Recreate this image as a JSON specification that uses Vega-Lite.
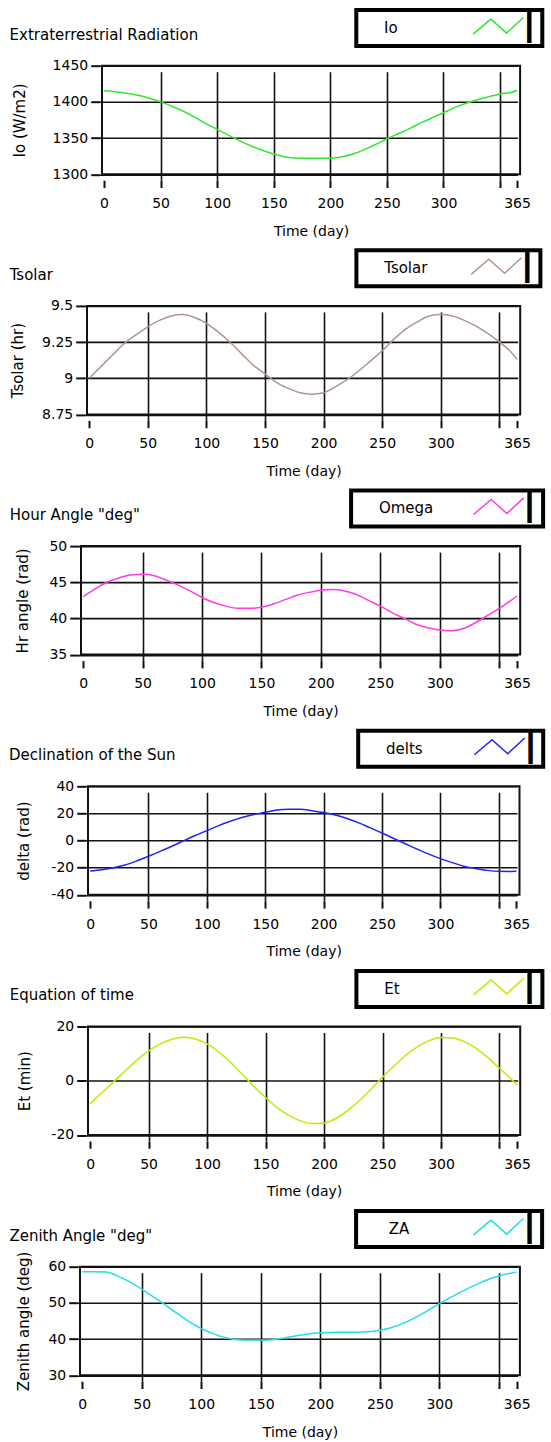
{
"$schema": "https://vega.github.io/schema/vega-lite/v6.json",
"background": "white",
"padding": {"left": 5, "top": 6.7, "right": 0, "bottom": 0},
"datasets": {"d": [
{"s":"Io","day":0,"v":1415.5},{"s":"Io","day":10,"v":1414},{"s":"Io","day":20,"v":1412},{"s":"Io","day":30,"v":1409},{"s":"Io","day":40,"v":1405},{"s":"Io","day":50,"v":1400},{"s":"Io","day":60,"v":1394},{"s":"Io","day":70,"v":1387},{"s":"Io","day":80,"v":1379},{"s":"Io","day":90,"v":1370},{"s":"Io","day":100,"v":1362},{"s":"Io","day":110,"v":1354},{"s":"Io","day":120,"v":1346},{"s":"Io","day":130,"v":1339},{"s":"Io","day":140,"v":1333},{"s":"Io","day":150,"v":1328},{"s":"Io","day":160,"v":1324},{"s":"Io","day":170,"v":1322},{"s":"Io","day":180,"v":1322},{"s":"Io","day":190,"v":1322},{"s":"Io","day":200,"v":1322},{"s":"Io","day":210,"v":1324},{"s":"Io","day":220,"v":1328},{"s":"Io","day":230,"v":1334},{"s":"Io","day":240,"v":1341},{"s":"Io","day":250,"v":1349},{"s":"Io","day":260,"v":1356},{"s":"Io","day":270,"v":1363},{"s":"Io","day":280,"v":1371},{"s":"Io","day":290,"v":1378},{"s":"Io","day":300,"v":1385},{"s":"Io","day":310,"v":1392},{"s":"Io","day":320,"v":1398},{"s":"Io","day":330,"v":1403},{"s":"Io","day":340,"v":1407},{"s":"Io","day":350,"v":1411},{"s":"Io","day":360,"v":1413},{"s":"Io","day":365,"v":1416},
{"s":"Tsolar","day":0,"v":9.00},{"s":"Tsolar","day":10,"v":9.08},{"s":"Tsolar","day":20,"v":9.16},{"s":"Tsolar","day":30,"v":9.24},{"s":"Tsolar","day":40,"v":9.30},{"s":"Tsolar","day":50,"v":9.355},{"s":"Tsolar","day":60,"v":9.40},{"s":"Tsolar","day":70,"v":9.43},{"s":"Tsolar","day":80,"v":9.44},{"s":"Tsolar","day":90,"v":9.42},{"s":"Tsolar","day":100,"v":9.38},{"s":"Tsolar","day":110,"v":9.32},{"s":"Tsolar","day":120,"v":9.25},{"s":"Tsolar","day":130,"v":9.17},{"s":"Tsolar","day":140,"v":9.09},{"s":"Tsolar","day":150,"v":9.03},{"s":"Tsolar","day":160,"v":8.97},{"s":"Tsolar","day":170,"v":8.93},{"s":"Tsolar","day":180,"v":8.90},{"s":"Tsolar","day":190,"v":8.89},{"s":"Tsolar","day":200,"v":8.90},{"s":"Tsolar","day":210,"v":8.94},{"s":"Tsolar","day":220,"v":8.99},{"s":"Tsolar","day":230,"v":9.05},{"s":"Tsolar","day":240,"v":9.12},{"s":"Tsolar","day":250,"v":9.19},{"s":"Tsolar","day":260,"v":9.27},{"s":"Tsolar","day":270,"v":9.34},{"s":"Tsolar","day":280,"v":9.39},{"s":"Tsolar","day":290,"v":9.43},{"s":"Tsolar","day":300,"v":9.44},{"s":"Tsolar","day":310,"v":9.43},{"s":"Tsolar","day":320,"v":9.40},{"s":"Tsolar","day":330,"v":9.36},{"s":"Tsolar","day":340,"v":9.31},{"s":"Tsolar","day":350,"v":9.25},{"s":"Tsolar","day":360,"v":9.18},{"s":"Tsolar","day":365,"v":9.13},
{"s":"Omega","day":0,"v":43.0},{"s":"Omega","day":10,"v":44.1},{"s":"Omega","day":20,"v":45.0},{"s":"Omega","day":30,"v":45.6},{"s":"Omega","day":40,"v":46.0},{"s":"Omega","day":50,"v":46.1},{"s":"Omega","day":60,"v":45.9},{"s":"Omega","day":70,"v":45.3},{"s":"Omega","day":80,"v":44.6},{"s":"Omega","day":90,"v":43.8},{"s":"Omega","day":100,"v":42.9},{"s":"Omega","day":110,"v":42.2},{"s":"Omega","day":120,"v":41.7},{"s":"Omega","day":130,"v":41.4},{"s":"Omega","day":140,"v":41.4},{"s":"Omega","day":150,"v":41.55},{"s":"Omega","day":160,"v":42.0},{"s":"Omega","day":170,"v":42.6},{"s":"Omega","day":180,"v":43.2},{"s":"Omega","day":190,"v":43.6},{"s":"Omega","day":200,"v":43.9},{"s":"Omega","day":210,"v":44.0},{"s":"Omega","day":220,"v":43.8},{"s":"Omega","day":230,"v":43.3},{"s":"Omega","day":240,"v":42.5},{"s":"Omega","day":250,"v":41.7},{"s":"Omega","day":260,"v":40.8},{"s":"Omega","day":270,"v":40.0},{"s":"Omega","day":280,"v":39.2},{"s":"Omega","day":290,"v":38.7},{"s":"Omega","day":300,"v":38.4},{"s":"Omega","day":310,"v":38.3},{"s":"Omega","day":320,"v":38.6},{"s":"Omega","day":330,"v":39.4},{"s":"Omega","day":340,"v":40.4},{"s":"Omega","day":350,"v":41.4},{"s":"Omega","day":360,"v":42.5},{"s":"Omega","day":365,"v":43.1},
{"s":"delts","day":0,"v":-22.5},{"s":"delts","day":10,"v":-21.6},{"s":"delts","day":20,"v":-20.0},{"s":"delts","day":30,"v":-18.0},{"s":"delts","day":40,"v":-15.0},{"s":"delts","day":50,"v":-11.6},{"s":"delts","day":60,"v":-8.0},{"s":"delts","day":70,"v":-4.2},{"s":"delts","day":80,"v":-0.2},{"s":"delts","day":90,"v":3.7},{"s":"delts","day":100,"v":7.3},{"s":"delts","day":110,"v":11.0},{"s":"delts","day":120,"v":14.2},{"s":"delts","day":130,"v":17.0},{"s":"delts","day":140,"v":19.2},{"s":"delts","day":150,"v":20.8},{"s":"delts","day":160,"v":22.5},{"s":"delts","day":170,"v":23.0},{"s":"delts","day":180,"v":23.0},{"s":"delts","day":190,"v":22.0},{"s":"delts","day":200,"v":20.6},{"s":"delts","day":210,"v":18.8},{"s":"delts","day":220,"v":16.2},{"s":"delts","day":230,"v":13.0},{"s":"delts","day":240,"v":9.3},{"s":"delts","day":250,"v":5.6},{"s":"delts","day":260,"v":1.5},{"s":"delts","day":270,"v":-2.4},{"s":"delts","day":280,"v":-6.3},{"s":"delts","day":290,"v":-10.0},{"s":"delts","day":300,"v":-13.3},{"s":"delts","day":310,"v":-16.3},{"s":"delts","day":320,"v":-18.9},{"s":"delts","day":330,"v":-20.6},{"s":"delts","day":340,"v":-22.0},{"s":"delts","day":350,"v":-22.7},{"s":"delts","day":360,"v":-22.8},{"s":"delts","day":365,"v":-22.7},
{"s":"Et","day":0,"v":-8.5},{"s":"Et","day":10,"v":-4.4},{"s":"Et","day":20,"v":-0.4},{"s":"Et","day":30,"v":3.6},{"s":"Et","day":40,"v":7.6},{"s":"Et","day":50,"v":11.0},{"s":"Et","day":60,"v":13.6},{"s":"Et","day":70,"v":15.3},{"s":"Et","day":80,"v":16.0},{"s":"Et","day":90,"v":15.4},{"s":"Et","day":100,"v":13.6},{"s":"Et","day":110,"v":10.6},{"s":"Et","day":120,"v":6.8},{"s":"Et","day":130,"v":2.4},{"s":"Et","day":140,"v":-2.1},{"s":"Et","day":150,"v":-6.2},{"s":"Et","day":160,"v":-9.9},{"s":"Et","day":170,"v":-12.8},{"s":"Et","day":180,"v":-14.8},{"s":"Et","day":190,"v":-15.8},{"s":"Et","day":200,"v":-15.6},{"s":"Et","day":210,"v":-13.9},{"s":"Et","day":220,"v":-11.0},{"s":"Et","day":230,"v":-7.4},{"s":"Et","day":240,"v":-3.2},{"s":"Et","day":250,"v":1.3},{"s":"Et","day":260,"v":5.5},{"s":"Et","day":270,"v":9.4},{"s":"Et","day":280,"v":12.6},{"s":"Et","day":290,"v":14.8},{"s":"Et","day":300,"v":15.9},{"s":"Et","day":310,"v":15.8},{"s":"Et","day":320,"v":14.4},{"s":"Et","day":330,"v":11.9},{"s":"Et","day":340,"v":8.5},{"s":"Et","day":350,"v":4.6},{"s":"Et","day":360,"v":0.6},{"s":"Et","day":365,"v":-1.6},
{"s":"ZA","day":0,"v":58.6},{"s":"ZA","day":10,"v":58.6},{"s":"ZA","day":20,"v":58.5},{"s":"ZA","day":30,"v":57.4},{"s":"ZA","day":40,"v":55.8},{"s":"ZA","day":50,"v":53.8},{"s":"ZA","day":60,"v":51.6},{"s":"ZA","day":70,"v":49.4},{"s":"ZA","day":80,"v":47.0},{"s":"ZA","day":90,"v":44.8},{"s":"ZA","day":100,"v":42.9},{"s":"ZA","day":110,"v":41.5},{"s":"ZA","day":120,"v":40.4},{"s":"ZA","day":130,"v":39.8},{"s":"ZA","day":140,"v":39.7},{"s":"ZA","day":150,"v":39.7},{"s":"ZA","day":160,"v":39.8},{"s":"ZA","day":170,"v":40.3},{"s":"ZA","day":180,"v":40.9},{"s":"ZA","day":190,"v":41.4},{"s":"ZA","day":200,"v":41.7},{"s":"ZA","day":210,"v":41.8},{"s":"ZA","day":220,"v":41.9},{"s":"ZA","day":230,"v":41.9},{"s":"ZA","day":240,"v":42.0},{"s":"ZA","day":250,"v":42.4},{"s":"ZA","day":260,"v":43.2},{"s":"ZA","day":270,"v":44.4},{"s":"ZA","day":280,"v":46.0},{"s":"ZA","day":290,"v":47.8},{"s":"ZA","day":300,"v":49.8},{"s":"ZA","day":310,"v":51.6},{"s":"ZA","day":320,"v":53.3},{"s":"ZA","day":330,"v":54.9},{"s":"ZA","day":340,"v":56.3},{"s":"ZA","day":350,"v":57.4},{"s":"ZA","day":360,"v":58.2},{"s":"ZA","day":365,"v":58.5}
]},
"data": {"name": "d"},
"spacing": 7.2,
"resolve": {"scale": {"color": "independent", "x": "independent", "y": "independent"}, "legend": {"color": "independent"}},
"vconcat": [
{"spacing": 0, "resolve": {"scale": {"color": "independent"}, "legend": {"color": "independent"}}, "hconcat": [
 {"width": 1, "height": 1, "view": {"stroke": "transparent"}, "data": {"values": []}, "mark": "point", "encoding": {}},
 {
 "width": 418.1, "height": 108.5,
 "title": {"text": "Extraterrestrial Radiation", "dx": -92.4},
 "transform": [{"filter": "datum.s === 'Io'"}],
 "mark": {"type": "line"},
 "encoding": {
  "x": {"field": "day", "type": "quantitative", "scale": {"domain": [-1.8, 367.7], "nice": false, "zero": false},
        "axis": {"title": "Time (day)", "values": [0,50,100,150,200,250,300,350,365], "labelExpr": "datum.value === 350 ? '' : toString(datum.value)", "gridColor": {"condition": {"test": "datum.value === 365 || datum.value === 0", "value": "transparent"}, "value": "#111"}}},
  "y": {"field": "v", "type": "quantitative", "scale": {"domain": [1300, 1450], "nice": false, "zero": false},
        "axis": {"title": "Io (W/m2)", "values": [1300,1350,1400,1450], "titleX": -80.1}},
  "color": {"field": "s", "type": "nominal", "scale": {"domain": ["Io"], "range": ["#33E633"]},
        "legend": {"title": "\u200b\u00a0\u00a0\u00a0\u00a0\u00a0Io", "labelExpr": "'\u2503\u00a0\u00a0\u2009\u2009'", "legendX": 254.3, "legendY": -55.6, "titlePadding": 70.65, "encode": {"legend": {"strokeWidth": {"value": 4}}}}}
 }
 }
]},
{"spacing": 0, "resolve": {"scale": {"color": "independent"}, "legend": {"color": "independent"}}, "hconcat": [
 {"width": 1, "height": 1, "view": {"stroke": "transparent"}, "data": {"values": []}, "mark": "point", "encoding": {}},
 {
 "width": 433.2, "height": 108.5,
 "title": {"text": "Tsolar", "dx": -77.3},
 "transform": [{"filter": "datum.s === 'Tsolar'"}],
 "mark": {"type": "line"},
 "encoding": {
  "x": {"field": "day", "type": "quantitative", "scale": {"domain": [-1.8, 367.7], "nice": false, "zero": false},
        "axis": {"title": "Time (day)", "values": [0,50,100,150,200,250,300,350,365], "labelExpr": "datum.value === 350 ? '' : toString(datum.value)", "gridColor": {"condition": {"test": "datum.value === 365 || datum.value === 0", "value": "transparent"}, "value": "#111"}}},
  "y": {"field": "v", "type": "quantitative", "scale": {"domain": [8.75, 9.5], "nice": false, "zero": false},
        "axis": {"title": "Tsolar (hr)", "values": [8.75, 9, 9.25, 9.5], "titleX": -67.3}},
  "color": {"field": "s", "type": "nominal", "scale": {"domain": ["Tsolar"], "range": ["#AF968C"]},
        "legend": {"title": "\u200b\u00a0\u00a0\u00a0\u00a0\u00a0Tsolar", "labelExpr": "'\u2503\u00a0\u00a0\u2009\u2009'", "legendX": 269.4, "legendY": -55.6, "titlePadding": 38.55, "encode": {"legend": {"strokeWidth": {"value": 4}}}}}
 }
 }
]},
{"spacing": 0, "resolve": {"scale": {"color": "independent"}, "legend": {"color": "independent"}}, "hconcat": [
 {"width": 1, "height": 1, "view": {"stroke": "transparent"}, "data": {"values": []}, "mark": "point", "encoding": {}},
 {
 "width": 439.2, "height": 108.5,
 "title": {"text": "Hour Angle \"deg\"", "dx": -71.3},
 "transform": [{"filter": "datum.s === 'Omega'"}],
 "mark": {"type": "line"},
 "encoding": {
  "x": {"field": "day", "type": "quantitative", "scale": {"domain": [-1.8, 367.7], "nice": false, "zero": false},
        "axis": {"title": "Time (day)", "values": [0,50,100,150,200,250,300,350,365], "labelExpr": "datum.value === 350 ? '' : toString(datum.value)", "gridColor": {"condition": {"test": "datum.value === 365 || datum.value === 0", "value": "transparent"}, "value": "#111"}}},
  "y": {"field": "v", "type": "quantitative", "scale": {"domain": [35, 50], "nice": false, "zero": false},
        "axis": {"title": "Hr angle (rad)", "values": [35, 40, 45, 50], "titleX": -56.5}},
  "color": {"field": "s", "type": "nominal", "scale": {"domain": ["Omega"], "range": ["#FF3CE4"]},
        "legend": {"title": "\u200b\u00a0\u00a0\u00a0\u00a0\u00a0Omega", "labelExpr": "'\u2503\u00a0\u00a0\u2009\u2009'", "legendX": 270.1, "legendY": -55.6, "titlePadding": 35.15, "encode": {"legend": {"strokeWidth": {"value": 4}}}}}
 }
 }
]},
{"spacing": 0, "resolve": {"scale": {"color": "independent"}, "legend": {"color": "independent"}}, "hconcat": [
 {"width": 1, "height": 1, "view": {"stroke": "transparent"}, "data": {"values": []}, "mark": "point", "encoding": {}},
 {
 "width": 431.5, "height": 108.5,
 "title": {"text": "Declination of the Sun", "dx": -79},
 "transform": [{"filter": "datum.s === 'delts'"}],
 "mark": {"type": "line"},
 "encoding": {
  "x": {"field": "day", "type": "quantitative", "scale": {"domain": [-1.8, 367.7], "nice": false, "zero": false},
        "axis": {"title": "Time (day)", "values": [0,50,100,150,200,250,300,350,365], "labelExpr": "datum.value === 350 ? '' : toString(datum.value)", "gridColor": {"condition": {"test": "datum.value === 365 || datum.value === 0", "value": "transparent"}, "value": "#111"}}},
  "y": {"field": "v", "type": "quantitative", "scale": {"domain": [-40, 40], "nice": false, "zero": false},
        "axis": {"title": "delta (rad)", "values": [-40, -20, 0, 20, 40], "titleX": -62.1}},
  "color": {"field": "s", "type": "nominal", "scale": {"domain": ["delts"], "range": ["#2020FF"]},
        "legend": {"title": "\u200b\u00a0\u00a0\u00a0\u00a0\u00a0delts", "labelExpr": "'\u2503\u00a0\u00a0\u2009\u2009'", "legendX": 270.2, "legendY": -55.6, "titlePadding": 46.95, "encode": {"legend": {"strokeWidth": {"value": 4}}}}}
 }
 }
]},
{"spacing": 0, "resolve": {"scale": {"color": "independent"}, "legend": {"color": "independent"}}, "hconcat": [
 {"width": 1, "height": 1, "view": {"stroke": "transparent"}, "data": {"values": []}, "mark": "point", "encoding": {}},
 {
 "width": 432.2, "height": 108.5,
 "title": {"text": "Equation of time", "dx": -78.3},
 "transform": [{"filter": "datum.s === 'Et'"}],
 "mark": {"type": "line"},
 "encoding": {
  "x": {"field": "day", "type": "quantitative", "scale": {"domain": [-1.8, 367.7], "nice": false, "zero": false},
        "axis": {"title": "Time (day)", "values": [0,50,100,150,200,250,300,350,365], "labelExpr": "datum.value === 350 ? '' : toString(datum.value)", "gridColor": {"condition": {"test": "datum.value === 365 || datum.value === 0", "value": "transparent"}, "value": "#111"}}},
  "y": {"field": "v", "type": "quantitative", "scale": {"domain": [-20, 20], "nice": false, "zero": false},
        "axis": {"title": "Et (min)", "values": [-20, 0, 20], "titleX": -61.4}},
  "color": {"field": "s", "type": "nominal", "scale": {"domain": ["Et"], "range": ["#B4F000"]},
        "legend": {"title": "\u200b\u00a0\u00a0\u00a0\u00a0\u00a0Et", "labelExpr": "'\u2503\u00a0\u00a0\u2009\u2009'", "legendX": 268.4, "legendY": -55.6, "titlePadding": 68.85, "encode": {"legend": {"strokeWidth": {"value": 4}}}}}
 }
 }
]},
{"spacing": 0, "resolve": {"scale": {"color": "independent"}, "legend": {"color": "independent"}}, "hconcat": [
 {"width": 1, "height": 1, "view": {"stroke": "transparent"}, "data": {"values": []}, "mark": "point", "encoding": {}},
 {
 "width": 439.9, "height": 108.5,
 "title": {"text": "Zenith Angle \"deg\"", "dx": -70.6},
 "transform": [{"filter": "datum.s === 'ZA'"}],
 "mark": {"type": "line"},
 "encoding": {
  "x": {"field": "day", "type": "quantitative", "scale": {"domain": [-1.8, 367.7], "nice": false, "zero": false},
        "axis": {"title": "Time (day)", "values": [0,50,100,150,200,250,300,350,365], "labelExpr": "datum.value === 350 ? '' : toString(datum.value)", "gridColor": {"condition": {"test": "datum.value === 365 || datum.value === 0", "value": "transparent"}, "value": "#111"}}},
  "y": {"field": "v", "type": "quantitative", "scale": {"domain": [30, 60], "nice": false, "zero": false},
        "axis": {"title": "Zenith angle (deg)", "values": [30, 40, 50, 60], "titleX": -53.7}},
  "color": {"field": "s", "type": "nominal", "scale": {"domain": ["ZA"], "range": ["#22DDEE"]},
        "legend": {"title": "\u200b\u00a0\u00a0\u00a0\u00a0\u00a0\u00a0ZA", "labelExpr": "'\u2503\u00a0\u00a0\u2009\u2009'", "legendX": 276.1, "legendY": -55.6, "titlePadding": 58.95, "encode": {"legend": {"strokeWidth": {"value": 4}}}}}
 }
 }
]}
],
"config": {
 "font": "DejaVu Sans",
 "view": {"stroke": "#111", "strokeWidth": 2},
 "line": {"strokeWidth": 1.5, "interpolate": "monotone"},
 "axis": {"labelFont": "DejaVu Sans", "labelFontSize": 14, "labelColor": "#000", "titleFont": "DejaVu Sans", "titleFontSize": 15, "titleFontWeight": "normal", "titleColor": "#000", "domain": false, "tickColor": "#111", "tickWidth": 2, "gridColor": "#111", "gridWidth": 1.6, "gridOpacity": 1, "labelFlush": false, "labelOverlap": false},
 "axisX": {"offset": 6, "tickSize": 7.3, "labelPadding": 9, "titleY": 44, "titleBaseline": "top", "titleFontSize": 14},
 "axisY": {"offset": 2.5, "tickSize": 8.8, "labelPadding": 3, "titleBaseline": "middle", "labelExpr": "toString(datum.value)"},
 "title": {"font": "DejaVu Sans", "fontSize": 15, "fontWeight": "normal", "color": "#000", "anchor": "start", "frame": "group", "baseline": "middle", "offset": -34.6},
 "legend": {"orient": "none", "titleOrient": "left", "titleFont": "DejaVu Sans", "titleFontSize": 15, "titleFontWeight": "normal", "titleColor": "#000", "titleAnchor": "middle", "titleBaseline": "middle", "fillColor": "white", "strokeColor": "#000", "strokeWidth": 4, "padding": 4, "symbolType": "M-2.79,0.67L-0.83,-1L0.92,0.56L2.79,-1.18", "symbolSize": 324, "symbolStrokeWidth": 1.5, "symbolFillColor": "transparent", "symbolOffset": 15.35, "labelFont": "DejaVu Sans", "labelFontSize": 28, "labelColor": "#000", "labelOffset": 8.75}
}
}
